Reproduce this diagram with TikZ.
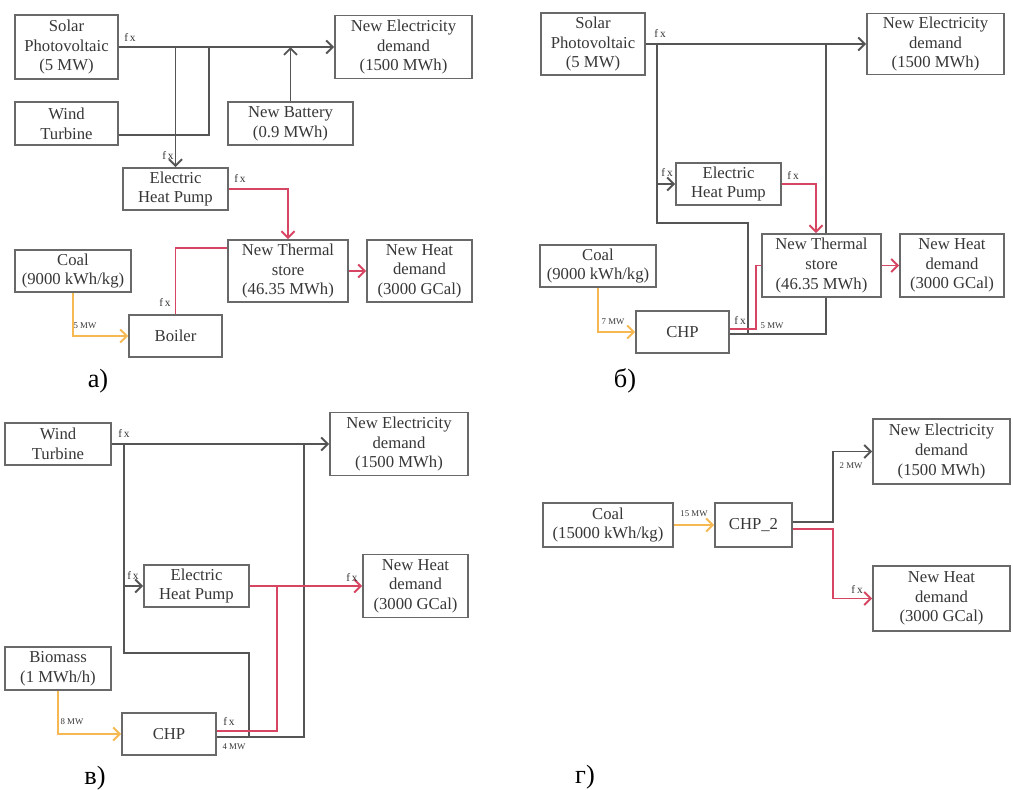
\documentclass[tikz,border=0pt]{standalone}
\usepackage{fontspec}
\setmainfont{Liberation Serif}
\usetikzlibrary{arrows.meta}

\definecolor{boxgray}{RGB}{105,105,105}
\definecolor{linegray}{RGB}{85,85,85}
\definecolor{heatred}{RGB}{214,70,98}
\definecolor{fuelyellow}{RGB}{246,184,82}
\definecolor{txtgray}{RGB}{55,55,55}

\tikzset{
  device/.style={draw=boxgray, line width=1.1pt, fill=white, align=center, inner sep=0pt,
    text=txtgray, font=\fontsize{9.5}{11.2}\selectfont},
  boxsize/.style 2 args={minimum width=#1*0.02cm, minimum height=#2*0.02cm},
  elec/.style={draw=linegray, line width=1.1pt},
  heat/.style={draw=heatred, line width=1.1pt},
  fuel/.style={draw=fuelyellow, line width=1.1pt},
  fx/.style={font=\fontsize{6.5}{7}\selectfont, text=txtgray, inner sep=0pt},
  mw/.style={font=\fontsize{5}{6}\selectfont, text=txtgray, inner sep=0pt},
  panel/.style={font=\fontsize{15}{16}\selectfont, inner sep=0pt},
  >={Straight Barb[length=1.3mm,width=2.6mm]}
}

\begin{document}
\begin{tikzpicture}[x=0.02cm, y=-0.02cm]
    \useasboundingbox (0,0) rectangle (1013,789);

    % a) solar + wind + battery, boiler
    \node[device, boxsize={103}{64}] (solarA) at (66.5,47) {Solar\\Photovoltaic\\(5 MW)};
    \node[device, boxsize={103}{43}] (windA) at (66.5,123.5) {Wind\\Turbine};
    \node[device, boxsize={137}{63}] (elecA) at (403.5,47) {New Electricity\\demand\\(1500 MWh)};
    \node[device, boxsize={125}{43}] (battA) at (290.5,123.5) {New Battery\\(0.9 MWh)};
    \node[device, boxsize={105}{42}] (ehpA) at (175.5,189) {Electric\\Heat Pump};
    \node[device, boxsize={120}{62}] (thermA) at (288,271) {New Thermal\\store\\(46.35 MWh)};
    \node[device, boxsize={105}{62}] (heatA) at (419.5,271) {New Heat\\demand\\(3000 GCal)};
    \node[device, boxsize={116}{42}] (coalA) at (73,271) {Coal\\(9000 kWh/kg)};
    \node[device, boxsize={93}{42}] (boilerA) at (175.5,336) {Boiler};
    \coordinate (busA) at (209,47);

    \draw[elec,->] (solarA.east) -- (elecA.west);
    \draw[elec] ([yshift=-0.23cm]windA.east) -| (busA);
    \draw[elec,->] (ehpA.north |- solarA.east) -- (ehpA.north);
    \draw[elec,->] (battA.north) -- (battA.north |- elecA.west);
    \draw[heat,->] (ehpA.east) -| (thermA.north);
    \draw[heat] (boilerA.north) |- ([yshift=0.46cm]thermA.west);
    \draw[heat,->] (thermA.east) -- (heatA.west);
    \draw[fuel,->] (coalA.south) |- (boilerA.west);

    \node[fx] (fxA1) at (130,37) {f\,x};
    \node[fx] (fxA2) at (168,155) {f\,x};
    \node[fx] (fxA3) at (240,178) {f\,x};
    \node[fx] (fxA4) at (165,302) {f\,x};
    \node[mw] (mwA) at (85,326) {5 MW};
    \node[panel] (capA) at (98,381) {а)};

    % б) solar + CHP on coal
    \node[device, boxsize={104}{62}] (solarB) at (593,44) {Solar\\Photovoltaic\\(5 MW)};
    \node[device, boxsize={137}{61}] (elecB) at (935.5,44) {New Electricity\\demand\\(1500 MWh)};
    \node[device, boxsize={105}{42}] (ehpB) at (728.5,184) {Electric\\Heat Pump};
    \node[device, boxsize={119}{63}] (thermB) at (821.5,265.5) {New Thermal\\store\\(46.35 MWh)};
    \node[device, boxsize={104}{63}] (heatB) at (952,265.5) {New Heat\\demand\\(3000 GCal)};
    \node[device, boxsize={116}{42}] (coalB) at (598,266) {Coal\\(9000 kWh/kg)};
    \node[device, boxsize={93}{42}] (chpB) at (682.5,332) {CHP};
    \coordinate (loopB1) at (657,223);
    \coordinate (loopB2) at (748,334);
    \coordinate (busB) at (826,334);

    \draw[elec,->] (solarB.east) -- (elecB.west);
    \draw[elec] (solarB.east -| loopB1) -- (loopB1) -| (loopB2);
    \draw[elec,->] (ehpB.west -| loopB1) -- (ehpB.west);
    \draw[elec] ([yshift=-0.04cm]chpB.east) -- (busB) -- ([xshift=0.09cm]thermB.south);
    \draw[elec] ([xshift=0.09cm]thermB.north) -- (busB |- solarB.east);
    \draw[heat,->] (ehpB.east) -| ([xshift=-0.11cm]thermB.north);
    \draw[heat] ([yshift=0.06cm]chpB.east) -- ++(26,0) |- (thermB.west);
    \draw[heat,->] (thermB.east) -- (heatB.west);
    \draw[fuel,->] (coalB.south) |- (chpB.west);

    \node[fx] (fxB1) at (660,33) {f\,x};
    \node[fx] (fxB2) at (667,172) {f\,x};
    \node[fx] (fxB3) at (793,175) {f\,x};
    \node[fx] (fxB4) at (740,320) {f\,x};
    \node[mw] (mwB1) at (613,322) {7 MW};
    \node[mw] (mwB2) at (772,326) {5 MW};
    \node[panel] (capB) at (625,381) {б)};

    % в) wind + CHP on biomass
    \node[device, boxsize={106}{42}] (windC) at (58,444) {Wind\\Turbine};
    \node[device, boxsize={138}{63}] (elecC) at (399,444) {New Electricity\\demand\\(1500 MWh)};
    \node[device, boxsize={105}{42}] (ehpC) at (196.5,586) {Electric\\Heat Pump};
    \node[device, boxsize={105}{63}] (heatC) at (415.5,586) {New Heat\\demand\\(3000 GCal)};
    \node[device, boxsize={106}{43}] (biomC) at (58,668.5) {Biomass\\(1 MWh/h)};
    \node[device, boxsize={94}{42}] (chpC) at (169,734) {CHP};
    \coordinate (loopC1) at (124,653);
    \coordinate (loopC2) at (249,737);
    \coordinate (busC) at (304,737);
    \coordinate (riseC) at (277,731);

    \draw[elec,->] (windC.east) -- (elecC.west);
    \draw[elec] (windC.east -| loopC1) -- (loopC1) -| (loopC2);
    \draw[elec,->] (ehpC.west -| loopC1) -- (ehpC.west);
    \draw[elec] (windC.east -| busC) -- (busC) -- ([yshift=-0.06cm]chpC.east);
    \draw[heat,->] (ehpC.east) -- (heatC.west);
    \draw[heat] ([yshift=0.06cm]chpC.east) -- (riseC) -- (riseC |- ehpC.east);
    \draw[fuel,->] (biomC.south) |- (chpC.west);

    \node[fx] (fxC1) at (124,433) {f\,x};
    \node[fx] (fxC2) at (133,575) {f\,x};
    \node[fx] (fxC3) at (352,577) {f\,x};
    \node[fx] (fxC4) at (229,721) {f\,x};
    \node[mw] (mwC1) at (72,722) {8 MW};
    \node[mw] (mwC2) at (234,747) {4 MW};
    \node[panel] (capC) at (95,778) {в)};

    % г) CHP_2 on coal only
    \node[device, boxsize={130}{44}] (coalD) at (608,525) {Coal\\(15000 kWh/kg)};
    \node[device, boxsize={77}{44}] (chp2D) at (753.5,525) {CHP\_2};
    \node[device, boxsize={137}{65}] (elecD) at (941.5,451.5) {New Electricity\\demand\\(1500 MWh)};
    \node[device, boxsize={137}{65}] (heatD) at (941.5,598.5) {New Heat\\demand\\(3000 GCal)};

    \draw[fuel,->] (coalD.east) -- (chp2D.west);
    \draw[elec,->] ([yshift=0.06cm]chp2D.east) -- ++(40,0) |- (elecD.west);
    \draw[heat,->] ([yshift=-0.08cm]chp2D.east) -- ++(40,0) |- (heatD.west);

    \node[mw] (mwD1) at (694,514) {15 MW};
    \node[mw] (mwD2) at (851,466) {2 MW};
    \node[fx] (fxD1) at (857,589) {f\,x};
    \node[panel] (capD) at (585,777) {г)};
\end{tikzpicture}
\end{document}
